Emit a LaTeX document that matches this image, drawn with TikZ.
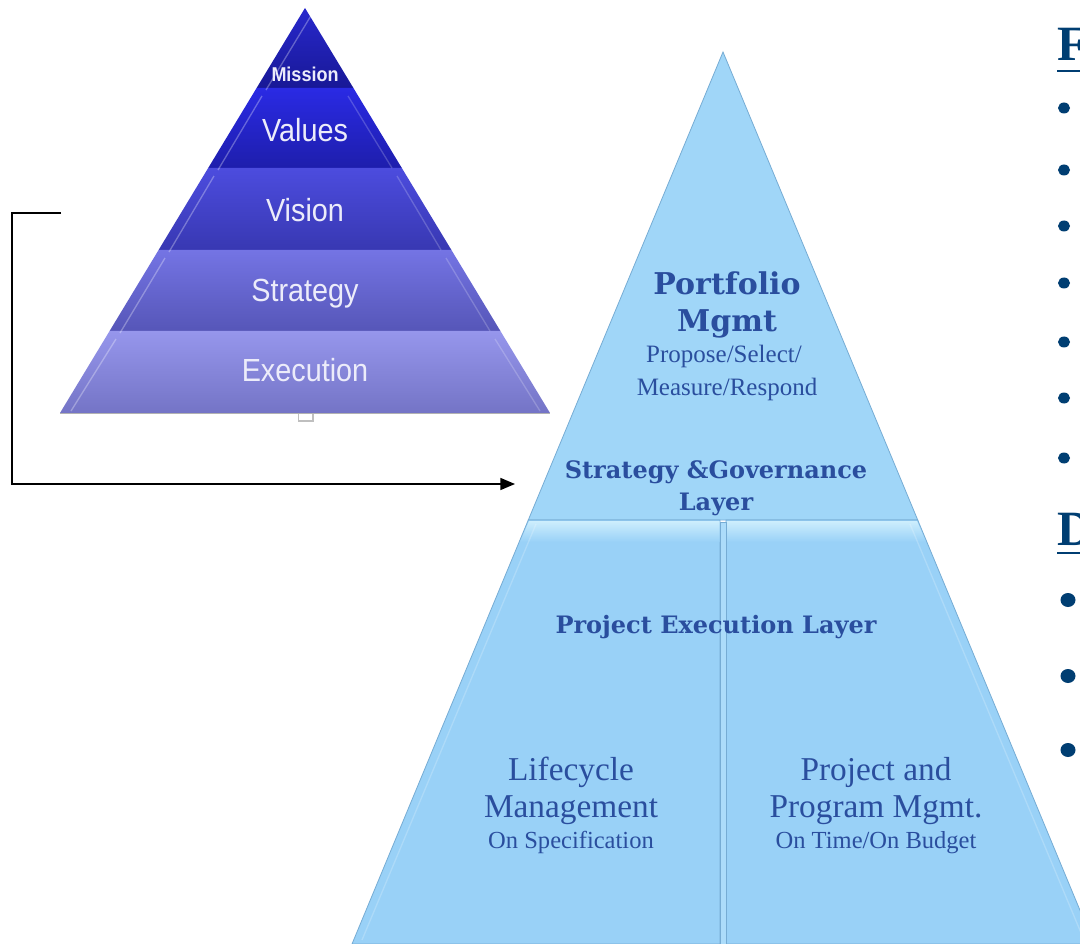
\documentclass[tikz,border=0pt]{standalone}
\usepackage{fontspec}
\setmainfont{Liberation Serif}
\newfontfamily\pyrsans[FakeStretch=0.9]{Liberation Sans}
\newfontfamily\dvserif{DejaVu Serif}
\usetikzlibrary{arrows.meta}
\definecolor{txtblue}{RGB}{42,78,158}
\definecolor{navy}{RGB}{0,62,114}
\definecolor{skyA}{RGB}{153,209,247}
\definecolor{skyB}{RGB}{160,214,248}
\definecolor{skyEdge}{RGB}{118,172,212}
\definecolor{skyLight}{RGB}{205,238,253}
\definecolor{pyrtxt}{RGB}{236,236,250}
\tikzset{
  band/.style={draw=none},
  pyrlabel/.style={font=\pyrsans, text=pyrtxt, anchor=base, inner sep=0pt},
  boldlab/.style={font=\dvserif\bfseries, text=txtblue, anchor=base, inner sep=0pt},
  reglab/.style={text=txtblue, anchor=base, inner sep=0pt},
  heading/.style={font=\bfseries, text=navy, anchor=base west, inner sep=0pt},
  link/.style={line width=1.2pt, -{Triangle[length=11pt,width=9pt]}}
}
\begin{document}
\begin{tikzpicture}[x=0.75pt,y=-0.75pt]
\useasboundingbox (0,0) rectangle (1080,944);
\clip (0,0) rectangle (1080,944);
\fill[white] (0,0) rectangle (1080,944);

% ---------- small pyramid ----------
\draw[gray!50, line width=0.8pt] (298.5,412) -- (298.5,421) -- (313,421) -- (313,412);
\path[band, top color={rgb,255:red,40;green,40;blue,205}, bottom color={rgb,255:red,24;green,24;blue,150}]
  (305,8) -- (353.4,88) -- (256.6,88) -- cycle;
\path[band, top color={rgb,255:red,42;green,42;blue,228}, bottom color={rgb,255:red,30;green,30;blue,172}]
  (256.6,88) -- (353.4,88) -- (401.8,168) -- (208.2,168) -- cycle;
\path[band, top color={rgb,255:red,76;green,76;blue,222}, bottom color={rgb,255:red,56;green,56;blue,178}]
  (208.2,168) -- (401.8,168) -- (451.4,250) -- (158.6,250) -- cycle;
\path[band, top color={rgb,255:red,116;green,116;blue,228}, bottom color={rgb,255:red,86;green,86;blue,184}]
  (158.6,250) -- (451.4,250) -- (500.4,331) -- (109.6,331) -- cycle;
\path[band, top color={rgb,255:red,150;green,150;blue,236}, bottom color={rgb,255:red,116;green,116;blue,198}]
  (109.6,331) -- (500.4,331) -- (550,413) -- (60,413) -- cycle;
% bevel highlights
\draw[white, opacity=0.3, line width=1pt] (266,90) -- (312,14);
\draw[white, opacity=0.3, line width=1pt] (218,170) -- (262,96);
\draw[white, opacity=0.3, line width=1pt] (169,252) -- (214,176);
\draw[white, opacity=0.3, line width=1pt] (120,333) -- (165,258);
\draw[white, opacity=0.3, line width=1pt] (71,411) -- (116,339);
\draw[white, opacity=0.2, line width=1pt] (392,168) -- (348,96);
\draw[white, opacity=0.2, line width=1pt] (441,250) -- (397,176);
\draw[white, opacity=0.2, line width=1pt] (490,331) -- (446,258);
\draw[white, opacity=0.2, line width=1pt] (540,411) -- (495,339);
\draw[gray!60, line width=1pt] (60,413.5) -- (550,413.5);

\node[pyrlabel, font=\pyrsans\bfseries\fontsize{15pt}{15pt}\selectfont] (mission) at (305,82) {Mission};
\node[pyrlabel, font=\pyrsans\fontsize{24pt}{24pt}\selectfont] (values) at (305,142) {Values};
\node[pyrlabel, font=\pyrsans\fontsize{24pt}{24pt}\selectfont] (vision) at (305,222) {Vision};
\node[pyrlabel, font=\pyrsans\fontsize{24pt}{24pt}\selectfont] (strategy) at (305,302) {Strategy};
\node[pyrlabel, font=\pyrsans\fontsize{24pt}{24pt}\selectfont] (execution) at (305,382) {Execution};

% ---------- connector ----------
\coordinate (cs) at (61,213);
\coordinate (ce) at (515,484);
\draw[link] (cs) -- (12,213) |- (ce);

% ---------- big pyramid ----------
\path[fill=skyB, draw=skyEdge, line width=0.6pt] (723,52) -- (917.7,520) -- (528.3,520) -- cycle;
\path[fill=skyA, draw=skyEdge, line width=0.6pt] (528.3,520) -- (720,520) -- (720,944) -- (352,944) -- cycle;
\path[fill=skyA, draw=skyEdge, line width=0.6pt] (726,520) -- (917.7,520) -- (1094,944) -- (726,944) -- cycle;
% bevels of lower halves
\path[top color=skyLight, bottom color=skyA] (529,521) -- (719.5,521) -- (719.5,542) -- (520,542) -- cycle;
\path[top color=skyLight, bottom color=skyA] (726.5,521) -- (917,521) -- (926,542) -- (726.5,542) -- cycle;
\draw[white, opacity=0.2, line width=1pt] (536,524) -- (362,940);
\draw[white, opacity=0.2, line width=1pt] (1084,940) -- (910,524);
% divider
\path[fill={rgb,255:red,172;green,220;blue,250}, draw=skyEdge, line width=0.6pt] (720,522) rectangle (726,944);

% top triangle texts
\node[boldlab, font=\dvserif\bfseries\fontsize{22.5pt}{22.5pt}\selectfont] (pf1) at (727,295) {Portfolio};
\node[boldlab, font=\dvserif\bfseries\fontsize{22.5pt}{22.5pt}\selectfont] (pf2) at (727,332) {Mgmt};
\node[reglab, font=\fontsize{18.75pt}{18.75pt}\selectfont] (ps1) at (724,363) {Propose/Select/};
\node[reglab, font=\fontsize{18.75pt}{18.75pt}\selectfont] (ps2) at (727,395) {Measure/Respond};
\node[boldlab, font=\dvserif\bfseries\fontsize{18pt}{18pt}\selectfont] (sg1) at (716,478) {Strategy \&Governance};
\node[boldlab, font=\dvserif\bfseries\fontsize{18pt}{18pt}\selectfont] (sg2) at (716,510) {Layer};
\node[boldlab, font=\dvserif\bfseries\fontsize{18pt}{18pt}\selectfont] (pel) at (716,633) {Project Execution Layer};

% lower texts
\node[reglab, font=\fontsize{25pt}{25pt}\selectfont] (lc1) at (571,780) {Lifecycle};
\node[reglab, font=\fontsize{25pt}{25pt}\selectfont] (lc2) at (571,817) {Management};
\node[reglab, font=\fontsize{18.4pt}{18.4pt}\selectfont] (lc3) at (571,848) {On Specification};
\node[reglab, font=\fontsize{25pt}{25pt}\selectfont] (pp1) at (876,780) {Project and};
\node[reglab, font=\fontsize{25pt}{25pt}\selectfont] (pp2) at (876,817) {Program Mgmt.};
\node[reglab, font=\fontsize{18.4pt}{18.4pt}\selectfont] (pp3) at (876,848) {On Time/On Budget};

% ---------- right edge (cut-off text column) ----------
\node[heading, font=\bfseries\fontsize{37pt}{37pt}\selectfont] (h1) at (1057,61) {F};
\draw[navy, line width=2pt] (1057,71) -- (1080,71);
\node[heading, font=\bfseries\fontsize{37pt}{37pt}\selectfont] (h2) at (1057,545) {D};
\draw[navy, line width=2pt] (1057,553) -- (1080,553);
\foreach \yy in {108,170,226,283,342,398,458}
  \fill[navy] (1064,\yy) circle[x radius=6, y radius=5.5];
\foreach \yy in {600,676,750}
  \fill[navy] (1068,\yy) circle[x radius=7.5, y radius=7];
\end{tikzpicture}
\end{document}
